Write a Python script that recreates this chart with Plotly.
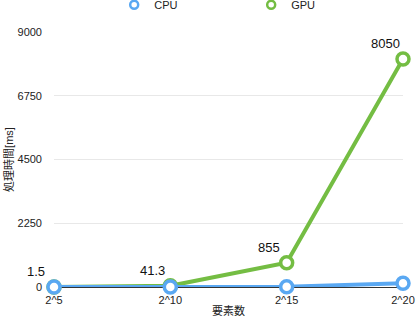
import plotly.graph_objects as go

categories = ["2^5", "2^10", "2^15", "2^20"]
cpu_values = [1, 2, 8, 135]
gpu_values = [1.5, 41.3, 855, 8050]
gpu_labels = ["1.5", "41.3", "855", "8050"]
y_ticks = [0, 2250, 4500, 6750, 9000]

CPU_COLOR = "#5aa8f2"
GPU_COLOR = "#74bd43"
FONT = "Liberation Sans, Noto Sans CJK JP, sans-serif"

xs = list(range(len(categories)))

fig = go.Figure()
fig.add_trace(go.Scatter(
    x=xs, y=gpu_values, mode="lines+markers", showlegend=False, cliponaxis=False,
    line=dict(color=GPU_COLOR, width=4),
    marker=dict(size=12, color="white", line=dict(color=GPU_COLOR, width=3.5)),
))
fig.add_trace(go.Scatter(
    x=xs, y=cpu_values, mode="lines+markers", showlegend=False, cliponaxis=False,
    line=dict(color=CPU_COLOR, width=4),
    marker=dict(size=12, color="white", line=dict(color=CPU_COLOR, width=3.5)),
))
# legend-only entries
fig.add_trace(go.Scatter(
    x=[None], y=[None], mode="markers", name="CPU",
    marker=dict(size=8, color="white", line=dict(color=CPU_COLOR, width=2.5)),
))
fig.add_trace(go.Scatter(
    x=[None], y=[None], mode="markers", name="GPU",
    marker=dict(size=8, color="white", line=dict(color=GPU_COLOR, width=2.5)),
))

for x, y, t in zip(xs, gpu_values, gpu_labels):
    fig.add_annotation(x=x, y=y, text=t, showarrow=False,
                       xshift=-18, yshift=15,
                       font=dict(family=FONT, size=13, color="#111"))

fig.update_layout(
    width=417, height=317,
    margin=dict(l=54, r=14, t=32, b=30),
    paper_bgcolor="white", plot_bgcolor="white",
    font=dict(family=FONT, size=11, color="#222"),
    legend=dict(orientation="h", x=0.565, xanchor="center",
                yref="container", y=0.985, yanchor="middle",
                font=dict(size=11, color="#222"), entrywidth=92,
                itemwidth=30),
    xaxis=dict(
        range=[0, 3], tickvals=xs, ticktext=categories,
        showgrid=False, zeroline=False, showline=True, linecolor="#333", linewidth=1,
        layer="below traces",
        ticks="", ticklabelstandoff=3,
        title=dict(text="要素数", font=dict(size=11), standoff=5),
        automargin=False,
    ),
    yaxis=dict(
        range=[0, 9000], tickvals=y_ticks, ticktext=[str(v) for v in y_ticks],
        showgrid=True, gridcolor="#e8e8e8", zeroline=False, showline=False,
        layer="below traces",
        ticks="", ticklabelstandoff=11,
        title=dict(text="処理時間[ms]", font=dict(size=11), standoff=1),
        automargin=False,
    ),
)

fig.write_html("out.html")
